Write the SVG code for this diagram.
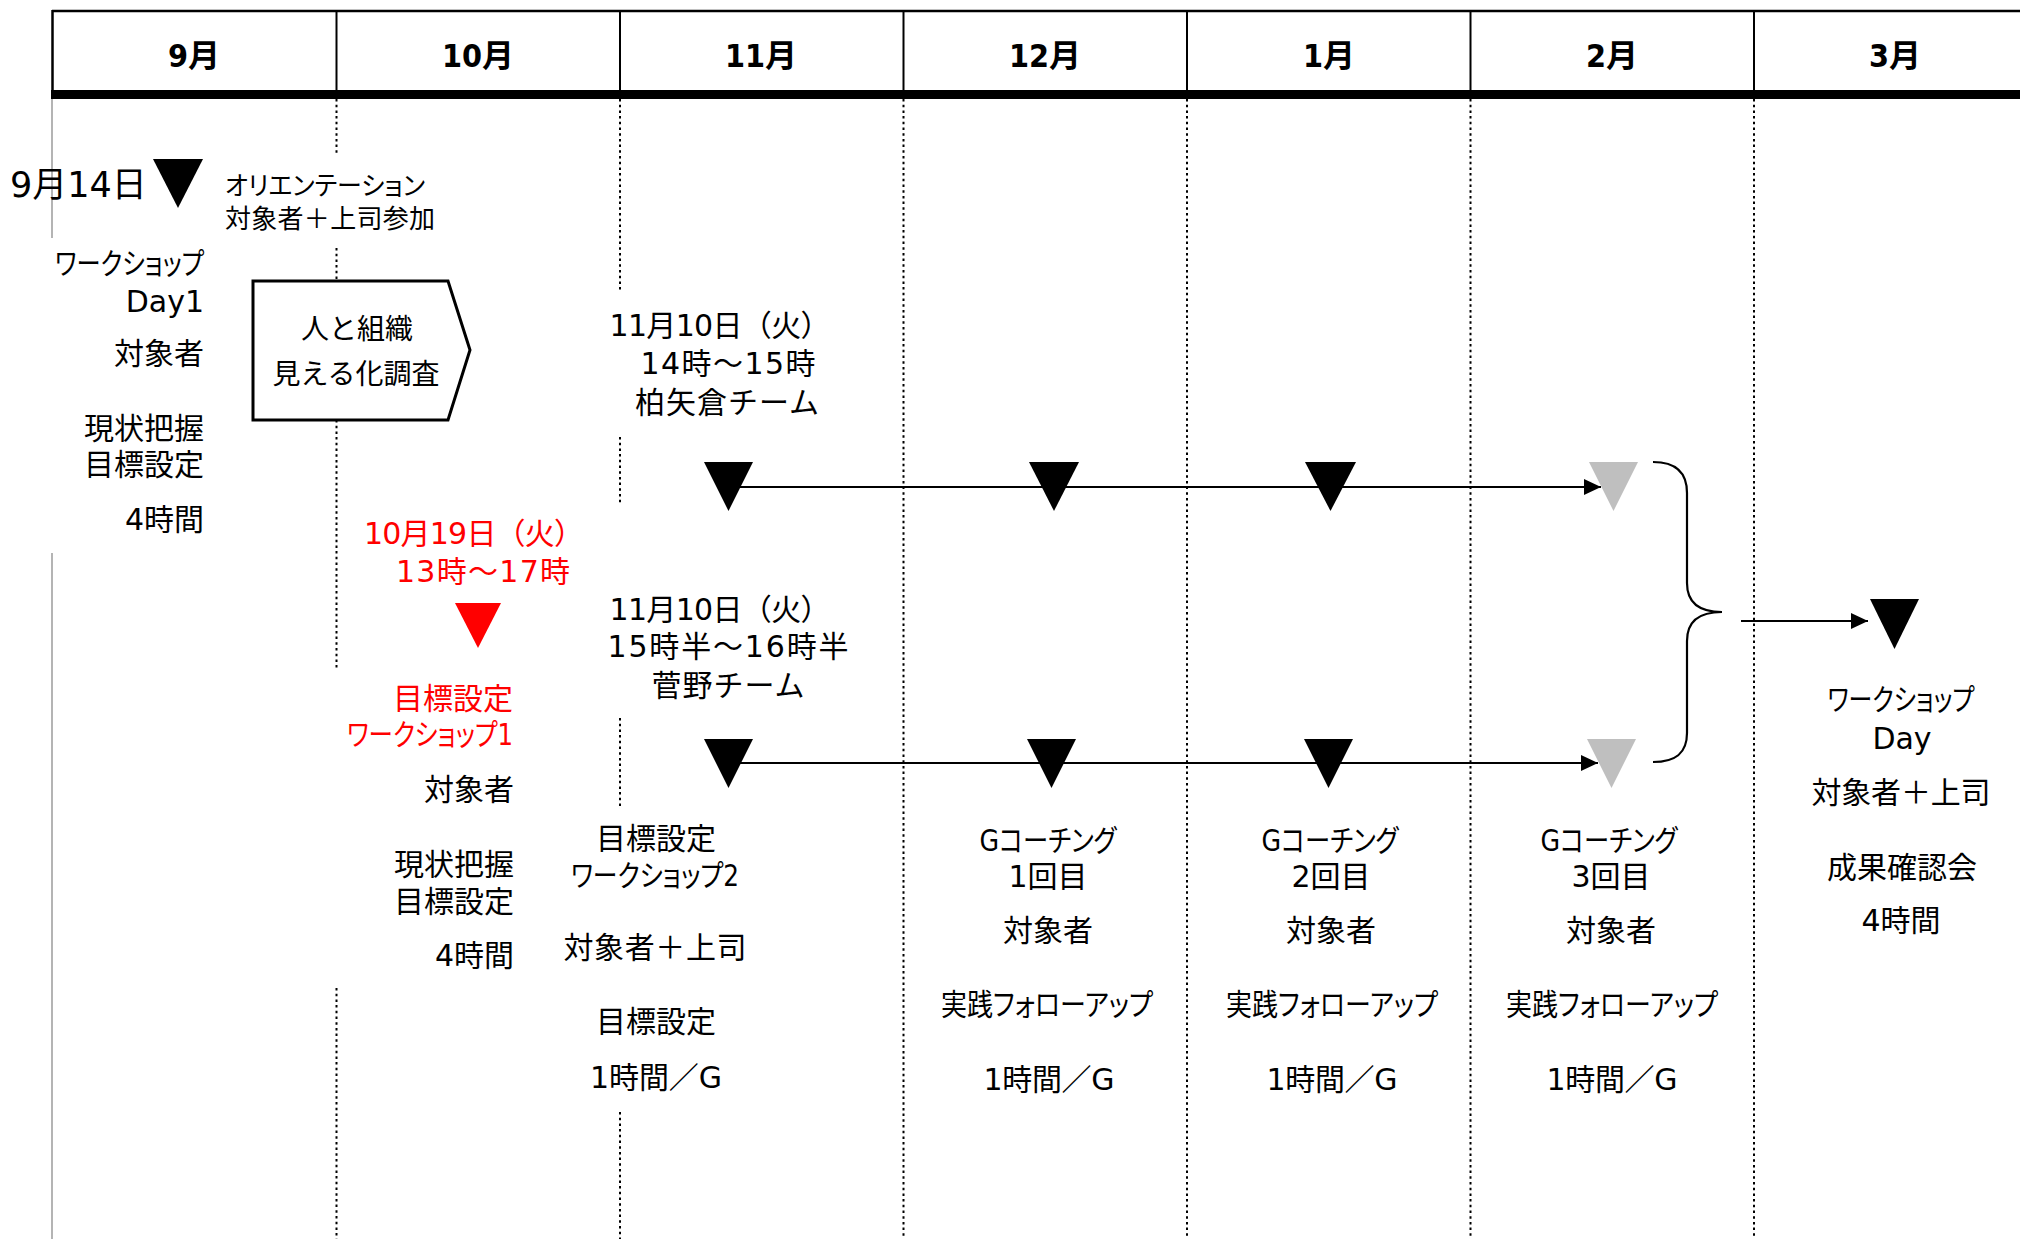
<svg xmlns="http://www.w3.org/2000/svg" width="2020" height="1239" viewBox="0 0 2020 1239">
<defs>
<style>
text{font-family:"DejaVu Sans","Noto Sans CJK JP",sans-serif;fill:#000;}
.hd{font-size:32px;font-weight:bold;text-anchor:middle;font-family:"DejaVu Sans Condensed","Noto Sans CJK JP",sans-serif;}
.b{font-size:30px;}
.l{font-size:30px;text-anchor:end;}
.m{font-size:30px;text-anchor:middle;}
.p{font-feature-settings:"palt";}
.red{fill:#ff0000;}
.grid{stroke:#000;stroke-width:2;stroke-dasharray:2.5 3.2;fill:none;}
.gray{stroke:#b4b4b4;stroke-width:2;fill:none;}
.tri{fill:#000;}
.tri-g{fill:#bfbfbf;}
.tri-r{fill:#ff0000;}
.conn{stroke:#000;stroke-width:2.2;fill:none;}
</style>
<marker id="ah" markerUnits="userSpaceOnUse" viewBox="0 0 17 16" markerWidth="17" markerHeight="16" refX="17" refY="8" orient="auto">
<path d="M0,0 L17,8 L0,16 z" fill="#000"/>
</marker>
</defs>
<rect width="2020" height="1239" fill="#fff"/>

<g id="gridlines">
<line class="gray" x1="52" y1="99" x2="52" y2="238"/>
<line class="gray" x1="52" y1="553" x2="52" y2="1239"/>
<line class="grid" x1="336.5" y1="99" x2="336.5" y2="155"/>
<line class="grid" x1="336.5" y1="248" x2="336.5" y2="281"/>
<line class="grid" x1="336.5" y1="420" x2="336.5" y2="668"/>
<line class="grid" x1="336.5" y1="988" x2="336.5" y2="1239"/>
<line class="grid" x1="620" y1="99" x2="620" y2="292"/>
<line class="grid" x1="620" y1="437" x2="620" y2="503"/>
<line class="grid" x1="620" y1="718" x2="620" y2="808"/>
<line class="grid" x1="620" y1="1112" x2="620" y2="1239"/>
<line class="grid" x1="903.5" y1="99" x2="903.5" y2="1239"/>
<line class="grid" x1="1187" y1="99" x2="1187" y2="1239"/>
<line class="grid" x1="1470.5" y1="99" x2="1470.5" y2="1239"/>
<line class="grid" x1="1754" y1="99" x2="1754" y2="1239"/>
</g>

<g id="header">
<line x1="52" y1="11" x2="2020" y2="11" stroke="#000" stroke-width="2.5"/>
<line x1="52.5" y1="10" x2="52.5" y2="92" stroke="#000" stroke-width="2.5"/>
<g stroke="#000" stroke-width="2">
<line x1="336.5" y1="11" x2="336.5" y2="92"/>
<line x1="620" y1="11" x2="620" y2="92"/>
<line x1="903.5" y1="11" x2="903.5" y2="92"/>
<line x1="1187" y1="11" x2="1187" y2="92"/>
<line x1="1470.5" y1="11" x2="1470.5" y2="92"/>
<line x1="1754" y1="11" x2="1754" y2="92"/>
</g>
<rect x="51" y="90" width="1969" height="9" fill="#000"/>
<text class="hd" x="194" y="67">9月</text>
<text class="hd" x="478" y="67">10月</text>
<text class="hd" x="761" y="67">11月</text>
<text class="hd" x="1045" y="67">12月</text>
<text class="hd" x="1329" y="67">1月</text>
<text class="hd" x="1612" y="67">2月</text>
<text class="hd" x="1895" y="67">3月</text>
</g>

<g id="connectors">
<line class="conn" x1="740" y1="487" x2="1601" y2="487" marker-end="url(#ah)"/>
<line class="conn" x1="740" y1="763" x2="1598" y2="763" marker-end="url(#ah)"/>
<path class="conn" stroke-width="2.5" d="M1653,462 C1676,462 1687,472 1687,493 L1687,583 C1687,603 1699,612 1722,612 C1699,612 1687,621 1687,641 L1687,733 C1687,753 1676,762 1653,762"/>
<line class="conn" x1="1741" y1="621" x2="1868" y2="621" marker-end="url(#ah)"/>
</g>

<g id="orientation">
<text x="10" y="197" style="font-size:35px">9月14日</text>
<polygon class="tri" points="153,159 203,159 178,208"/>
<text class="p" x="225" y="195" style="font-size:26px" textLength="200" lengthAdjust="spacingAndGlyphs">オリエンテーション</text>
<text x="225" y="228" style="font-size:26px" textLength="210" lengthAdjust="spacing">対象者＋上司参加</text>
</g>

<g id="workshop-day1">
<text class="l p" x="204" y="274" textLength="149" lengthAdjust="spacingAndGlyphs">ワークショップ</text>
<text class="l" x="204" y="312">Day1</text>
<text class="l" x="204" y="364">対象者</text>
<text class="l" x="204" y="439">現状把握</text>
<text class="l" x="204" y="475">目標設定</text>
<text class="l" x="204" y="530">4時間</text>
</g>

<g id="survey">
<polygon points="253,281 448,281 470,350 448,420 253,420" fill="#fff" stroke="#000" stroke-width="3"/>
<text class="m" x="357" y="339" style="font-size:28px">人と組織</text>
<text class="m" x="356" y="384" style="font-size:28px">見える化調査</text>
</g>

<g id="workshop1">
<text class="m red" x="474" y="544" textLength="220" lengthAdjust="spacing">10月19日（火）</text>
<text class="m red" x="483" y="582" textLength="174" lengthAdjust="spacing">13時～17時</text>
<polygon class="tri-r" points="455,603 501,603 478,648"/>
<text class="l red" x="513" y="709">目標設定</text>
<text class="l red p" x="513" y="745" textLength="166" lengthAdjust="spacingAndGlyphs">ワークショップ1</text>
<text class="l" x="514" y="800">対象者</text>
<text class="l" x="514" y="875">現状把握</text>
<text class="l" x="514" y="912">目標設定</text>
<text class="l" x="514" y="966">4時間</text>
</g>

<g id="team-kashiwayagura">
<text class="m" x="720" y="336" textLength="221" lengthAdjust="spacing">11月10日（火）</text>
<text class="m" x="728" y="374" textLength="175" lengthAdjust="spacing">14時～15時</text>
<text class="m" x="727" y="413" textLength="184" lengthAdjust="spacing">柏矢倉チーム</text>
<polygon class="tri" points="704,462 753,462 728.5,511"/>
<polygon class="tri" points="1029,462 1079,462 1054,511"/>
<polygon class="tri" points="1305,462 1356,462 1330.5,511"/>
<polygon class="tri-g" points="1589,462 1638,462 1613.5,511"/>
</g>

<g id="team-sugano">
<text class="m" x="720" y="620" textLength="221" lengthAdjust="spacing">11月10日（火）</text>
<text class="m" x="728" y="657" textLength="241" lengthAdjust="spacing">15時半～16時半</text>
<text class="m" x="728" y="696" textLength="153" lengthAdjust="spacing">菅野チーム</text>
<polygon class="tri" points="704,739 753,739 728.5,788"/>
<polygon class="tri" points="1027,739 1076,739 1051.5,788"/>
<polygon class="tri" points="1304,739 1353,739 1328.5,788"/>
<polygon class="tri-g" points="1587,739 1636,739 1611.5,788"/>
</g>

<g id="workshop2">
<text class="m" x="656" y="849">目標設定</text>
<text class="m p" x="655" y="886" textLength="168" lengthAdjust="spacingAndGlyphs">ワークショップ2</text>
<text class="m" x="655" y="958" textLength="183" lengthAdjust="spacing">対象者＋上司</text>
<text class="m" x="656" y="1032">目標設定</text>
<text class="m" x="656" y="1088" textLength="132" lengthAdjust="spacing">1時間／G</text>
</g>

<g id="coaching1">
<text class="m p" x="1048" y="851" textLength="137" lengthAdjust="spacingAndGlyphs">Gコーチング</text>
<text class="m" x="1048" y="887">1回目</text>
<text class="m" x="1048" y="941">対象者</text>
<text class="m p" x="1047" y="1015" textLength="212" lengthAdjust="spacingAndGlyphs">実践フォローアップ</text>
<text class="m" x="1049" y="1090" textLength="131" lengthAdjust="spacing">1時間／G</text>
</g>

<g id="coaching2">
<text class="m p" x="1330" y="851" textLength="137" lengthAdjust="spacingAndGlyphs">Gコーチング</text>
<text class="m" x="1331" y="887">2回目</text>
<text class="m" x="1331" y="941">対象者</text>
<text class="m p" x="1332" y="1015" textLength="212" lengthAdjust="spacingAndGlyphs">実践フォローアップ</text>
<text class="m" x="1332" y="1090" textLength="131" lengthAdjust="spacing">1時間／G</text>
</g>

<g id="coaching3">
<text class="m p" x="1609" y="851" textLength="137" lengthAdjust="spacingAndGlyphs">Gコーチング</text>
<text class="m" x="1611" y="887">3回目</text>
<text class="m" x="1611" y="941">対象者</text>
<text class="m p" x="1612" y="1015" textLength="212" lengthAdjust="spacingAndGlyphs">実践フォローアップ</text>
<text class="m" x="1612" y="1090" textLength="131" lengthAdjust="spacing">1時間／G</text>
</g>

<g id="workshop-final">
<polygon class="tri" points="1870,599 1919,599 1894.5,649"/>
<text class="m p" x="1901" y="710" textLength="147" lengthAdjust="spacingAndGlyphs">ワークショップ</text>
<text class="m" x="1902" y="749">Day</text>
<text class="m" x="1901" y="803" textLength="179" lengthAdjust="spacing">対象者＋上司</text>
<text class="m" x="1902" y="878">成果確認会</text>
<text class="m" x="1901" y="931">4時間</text>
</g>
</svg>
